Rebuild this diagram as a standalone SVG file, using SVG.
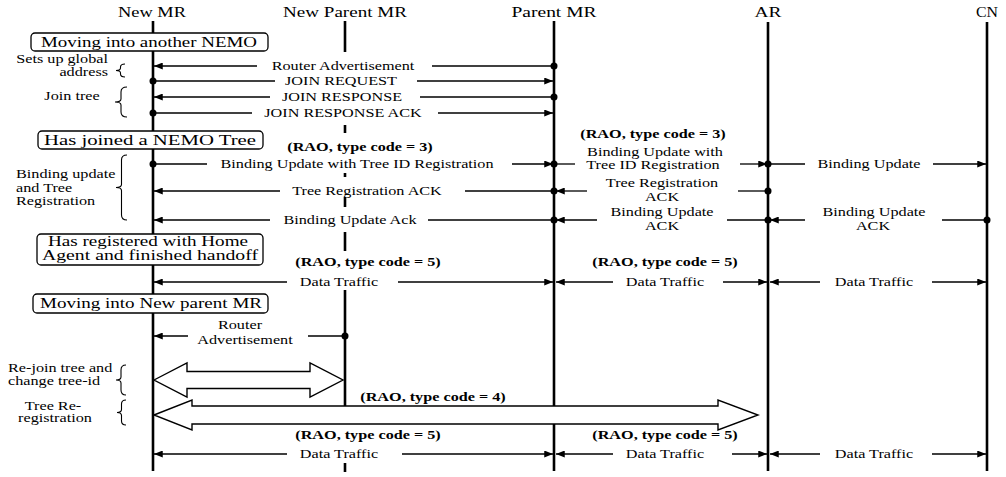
<svg xmlns="http://www.w3.org/2000/svg" width="1006" height="477" viewBox="0 0 1006 477">
<defs>
<style>
.hd{font-family:"Liberation Serif","Times New Roman",serif;font-size:14px;text-anchor:middle;fill:#000}
.bx{font-family:"Liberation Serif","Times New Roman",serif;font-size:14.5px;text-anchor:middle;fill:#000}
.m{font-family:"Liberation Serif","Times New Roman",serif;font-size:12px;text-anchor:middle;fill:#000}
.r{font-weight:bold}
.s{font-family:"Liberation Serif","Times New Roman",serif;font-size:12px;fill:#000}
.e{text-anchor:end}
.c{text-anchor:middle}
.ll{stroke:#000;stroke-width:2.6;fill:none}
.box{fill:#fff;stroke:#000;stroke-width:1.3}
.ln{stroke:#000;stroke-width:1.3;fill:none}
.la{stroke:#000;stroke-width:1.3;fill:none;marker-end:url(#ah)}
.dot{fill:#000}
.br{fill:none;stroke:#000;stroke-width:1.1}
.big{fill:#fff;stroke:#000;stroke-width:1.4;stroke-linejoin:miter}
</style>
<marker id="ah" viewBox="0 0 10 8" refX="10" refY="4" markerWidth="9" markerHeight="7" markerUnits="userSpaceOnUse" orient="auto"><path d="M0,0L10,4L0,8z" fill="#000"/></marker>
</defs>
<rect width="1006" height="477" fill="#fff"/>

<g id="lifelines">
 <g id="new-mr"><text class="hd" x="152" y="17" textLength="68" lengthAdjust="spacingAndGlyphs">New MR</text><line class="ll" x1="153" y1="21" x2="153" y2="471"/></g>
 <g id="new-parent-mr"><text class="hd" x="345" y="17" textLength="124" lengthAdjust="spacingAndGlyphs">New Parent MR</text><path class="ll" d="M345 21V52M345 125V133M345 173V177M345 197V207M345 232V251M345 290V407M345 463V472"/></g>
 <g id="parent-mr"><text class="hd" x="554" y="17" textLength="85" lengthAdjust="spacingAndGlyphs">Parent MR</text><line class="ll" x1="554" y1="21" x2="554" y2="471"/></g>
 <g id="ar"><text class="hd" x="768" y="17" textLength="27" lengthAdjust="spacingAndGlyphs">AR</text><line class="ll" x1="768" y1="22" x2="768" y2="471"/></g>
 <g id="cn"><text class="hd" x="987" y="17" textLength="22" lengthAdjust="spacingAndGlyphs">CN</text><line class="ll" x1="987" y1="22" x2="987" y2="471"/></g>
</g>

<g id="states">
 <g id="state-moving-nemo"><rect class="box" x="31" y="33" width="237" height="18" rx="4"/><text class="bx" x="149" y="47" textLength="216" lengthAdjust="spacingAndGlyphs">Moving into another NEMO</text></g>
 <g id="state-joined"><rect class="box" x="38" y="131" width="225" height="18" rx="4"/><text class="bx" x="150" y="145" textLength="212" lengthAdjust="spacingAndGlyphs">Has joined a NEMO Tree</text></g>
 <g id="state-registered"><rect class="box" x="37" y="234" width="226" height="31" rx="4"/><text class="bx" x="148" y="246" textLength="200" lengthAdjust="spacingAndGlyphs">Has registered with Home</text><text class="bx" x="150" y="260" textLength="216" lengthAdjust="spacingAndGlyphs">Agent and finished handoff</text></g>
 <g id="state-moving-parent"><rect class="box" x="33" y="294" width="235" height="19" rx="4"/><text class="bx" x="151" y="308" textLength="222" lengthAdjust="spacingAndGlyphs">Moving into New parent MR</text></g>
</g>

<g id="phases">
 <g id="phase-global"><text class="s e" transform="matrix(1.35 0 0 1 108 63)">Sets up global</text><text class="s e" transform="matrix(1.35 0 0 1 108 76)">address</text><path class="br" d="M125 64Q120.5 64 120.5 67V68Q120.5 70.5 116 70.5Q120.5 70.5 120.5 73V74Q120.5 77 125 77"/></g>
 <g id="phase-join"><text class="s c" transform="matrix(1.35 0 0 1 72 100)">Join tree</text><path class="br" d="M127 87Q121 87 121 92V99Q121 102 115 102Q121 102 121 105V112Q121 117 127 117"/></g>
 <g id="phase-binding"><text class="s" transform="matrix(1.35 0 0 1 16 178)">Binding update</text><text class="s" transform="matrix(1.35 0 0 1 16 192)">and Tree</text><text class="s" transform="matrix(1.35 0 0 1 16 205)">Registration</text><path class="br" d="M127 155Q121.5 155 121.5 160V184.5Q121.5 187.5 116 187.5Q121.5 187.5 121.5 190.5V215Q121.5 220 127 220"/></g>
 <g id="phase-rejoin"><text class="s" transform="matrix(1.35 0 0 1 8 372)">Re-join tree and</text><text class="s" transform="matrix(1.35 0 0 1 8 385)">change tree-id</text><path class="br" d="M126 365Q121 365 121 370V377Q121 380 116 380Q121 380 121 383V390Q121 395 126 395"/></g>
 <g id="phase-rereg"><text class="s c" transform="matrix(1.35 0 0 1 53 410)">Tree Re-</text><text class="s c" transform="matrix(1.35 0 0 1 55 422)">registration</text><path class="br" d="M126 400Q121.5 400 121.5 404V409.5Q121.5 412.5 117 412.5Q121.5 412.5 121.5 415.5V421Q121.5 425 126 425"/></g>
</g>

<g id="connectors">
 <!-- Router Advertisement -->
 <path class="la" d="M257 66H154"/><path class="ln" d="M432 66H554"/><circle class="dot" cx="554" cy="66" r="3.5"/>
 <text class="m" transform="matrix(1.35 0 0 1 343 70)">Router Advertisement</text>
 <!-- JOIN REQUEST -->
 <circle class="dot" cx="153" cy="81" r="3.5"/><path class="ln" d="M153 81H275"/><path class="la" d="M417 81H553"/>
 <text class="m" transform="matrix(1.35 0 0 1 341 85)">JOIN REQUEST</text>
 <!-- JOIN RESPONSE -->
 <path class="la" d="M270 97H154"/><path class="ln" d="M420 97H554"/><circle class="dot" cx="554" cy="97" r="3.5"/>
 <text class="m" transform="matrix(1.35 0 0 1 342 101)">JOIN RESPONSE</text>
 <!-- JOIN RESPONSE ACK -->
 <circle class="dot" cx="153" cy="113" r="3.5"/><path class="ln" d="M153 113H252"/><path class="la" d="M438 113H553"/>
 <text class="m" transform="matrix(1.35 0 0 1 343 117)">JOIN RESPONSE ACK</text>

 <!-- Binding Update with Tree ID Registration -->
 <text class="m r" transform="matrix(1.35 0 0 1 360 151)">(RAO, type code = 3)</text>
 <circle class="dot" cx="153" cy="164" r="3.5"/><path class="ln" d="M153 164H207"/><path class="la" d="M512 164H553"/>
 <text class="m" transform="matrix(1.35 0 0 1 357 168)">Binding Update with Tree ID Registration</text>
 <text class="m r" transform="matrix(1.35 0 0 1 653 138)">(RAO, type code = 3)</text>
 <circle class="dot" cx="554" cy="164" r="3.5"/><path class="ln" d="M554 164H575"/><path class="la" d="M740 164H767"/>
 <text class="m" transform="matrix(1.35 0 0 1 655 156)">Binding Update with</text>
 <text class="m" transform="matrix(1.35 0 0 1 653 169)">Tree ID Registration</text>
 <circle class="dot" cx="768" cy="164" r="3.5"/><path class="ln" d="M768 164H805"/><path class="la" d="M933 164H986"/>
 <text class="m" transform="matrix(1.35 0 0 1 869 168)">Binding Update</text>

 <!-- Tree Registration ACK -->
 <path class="la" d="M280 191H154"/><path class="ln" d="M465 191H554"/><circle class="dot" cx="554" cy="191" r="3.5"/>
 <text class="m" transform="matrix(1.35 0 0 1 367 195)">Tree Registration ACK</text>
 <path class="la" d="M587 191H556"/><path class="ln" d="M738 191H768"/><circle class="dot" cx="768" cy="191" r="3.5"/>
 <text class="m" transform="matrix(1.35 0 0 1 662 187)">Tree Registration</text>
 <text class="m" transform="matrix(1.35 0 0 1 662 201)">ACK</text>

 <!-- Binding Update Ack -->
 <path class="la" d="M270 220H154"/><path class="ln" d="M428 220H554"/><circle class="dot" cx="554" cy="220" r="3.5"/>
 <text class="m" transform="matrix(1.35 0 0 1 350 224)">Binding Update Ack</text>
 <path class="la" d="M597 220H556"/><path class="ln" d="M727 220H768"/><circle class="dot" cx="768" cy="220" r="3.5"/>
 <text class="m" transform="matrix(1.35 0 0 1 662 216)">Binding Update</text>
 <text class="m" transform="matrix(1.35 0 0 1 662 230)">ACK</text>
 <path class="la" d="M805 220H770"/><path class="ln" d="M942 220H987"/><circle class="dot" cx="987" cy="220" r="3.5"/>
 <text class="m" transform="matrix(1.35 0 0 1 874 216)">Binding Update</text>
 <text class="m" transform="matrix(1.35 0 0 1 873 230)">ACK</text>

 <!-- Data Traffic (upper) -->
 <text class="m r" transform="matrix(1.35 0 0 1 368 266)">(RAO, type code = 5)</text>
 <text class="m r" transform="matrix(1.35 0 0 1 665 266)">(RAO, type code = 5)</text>
 <path class="la" d="M287 282H154"/><path class="la" d="M398 282H553"/>
 <text class="m" transform="matrix(1.35 0 0 1 339 286)">Data Traffic</text>
 <path class="la" d="M613 282H556"/><path class="la" d="M723 282H767"/>
 <text class="m" transform="matrix(1.35 0 0 1 665 286)">Data Traffic</text>
 <path class="la" d="M820 282H770"/><path class="la" d="M932 282H986"/>
 <text class="m" transform="matrix(1.35 0 0 1 874 286)">Data Traffic</text>

 <!-- Router Advertisement (new parent) -->
 <path class="la" d="M188 336H154"/><path class="ln" d="M308 336H345"/><circle class="dot" cx="345" cy="336" r="3.5"/>
 <text class="m" transform="matrix(1.35 0 0 1 240 329)">Router</text>
 <text class="m" transform="matrix(1.35 0 0 1 245 344)">Advertisement</text>

 <!-- Re-join tree (double arrow) -->
 <polygon class="big" points="154,380 187,363 187,371.5 310,371.5 310,363 343,380 310,397 310,388.5 187,388.5 187,397"/>
 <!-- Tree re-registration (double arrow) -->
 <polygon class="big" points="154,415 192,400 192,406 718,406 718,400 758,415 718,430 718,424 192,424 192,430"/>
 <text class="m r" transform="matrix(1.35 0 0 1 433 401)">(RAO, type code = 4)</text>

 <!-- Data Traffic (lower) -->
 <text class="m r" transform="matrix(1.35 0 0 1 368 439)">(RAO, type code = 5)</text>
 <text class="m r" transform="matrix(1.35 0 0 1 665 439)">(RAO, type code = 5)</text>
 <path class="la" d="M287 454H154"/><path class="la" d="M402 454H553"/>
 <text class="m" transform="matrix(1.35 0 0 1 339 458)">Data Traffic</text>
 <path class="la" d="M613 454H556"/><path class="la" d="M732 454H767"/>
 <text class="m" transform="matrix(1.35 0 0 1 665 458)">Data Traffic</text>
 <path class="la" d="M820 454H770"/><path class="la" d="M932 454H986"/>
 <text class="m" transform="matrix(1.35 0 0 1 874 458)">Data Traffic</text>
</g>
</svg>
